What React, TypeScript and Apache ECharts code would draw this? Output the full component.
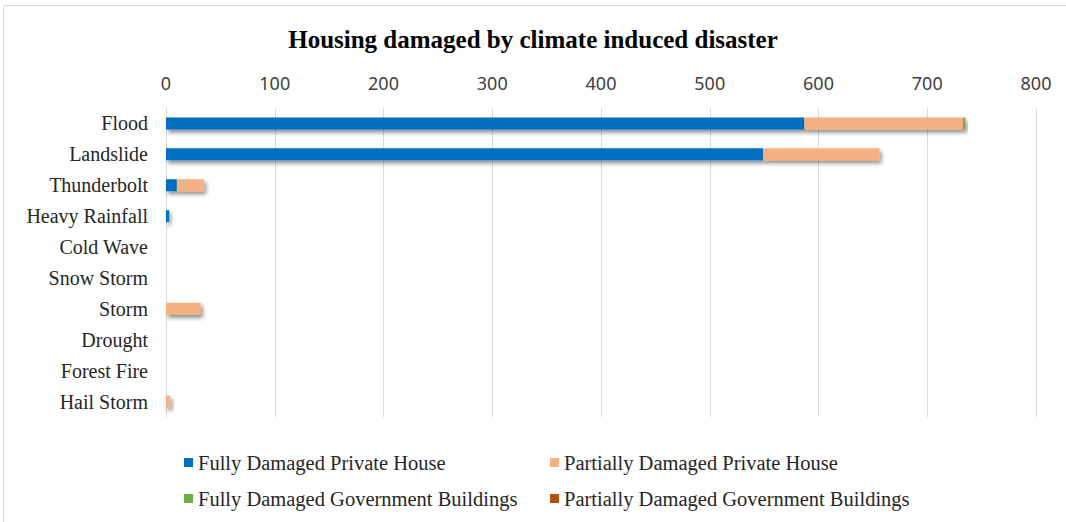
import React, { useEffect, useRef } from "react";
import * as echarts from "echarts";

const categories = ["Flood", "Landslide", "Thunderbolt", "Heavy Rainfall", "Cold Wave", "Snow Storm", "Storm", "Drought", "Forest Fire", "Hail Storm"];
const fullyPrivate = [587, 549, 10, 3, 0, 0, 0, 0, 0, 0];
const partialPrivate = [146, 107, 25, 0, 0, 0, 32, 0, 0, 4];
const fullyGov = [2, 0, 0, 0, 0, 0, 0, 0, 0, 0];
const partialGov = [0, 0, 0, 0, 0, 0, 0, 0, 0, 0];
const seriesNames = ["Fully Damaged Private House", "Partially Damaged Private House", "Fully Damaged Government Buildings", "Partially Damaged Government Buildings"];
const colors = ["#0070C0", "#F4B183", "#70AD47", "#B3520F"];

const FONT = "'Liberation Serif', 'Times New Roman', serif";
const SANS = "'Noto Sans', 'Open Sans', sans-serif";

export default function App() {
  const ref = useRef<HTMLDivElement>(null);
  useEffect(() => {
    const chart = echarts.init(ref.current!, null, { renderer: "svg" });
    const data = [fullyPrivate, partialPrivate, fullyGov, partialGov];
    const legendPos = [
      { left: 184, top: 452 },
      { left: 550, top: 452 },
      { left: 184, top: 488 },
      { left: 550, top: 488 },
    ];
    chart.setOption({
      animation: false,
      backgroundColor: "#ffffff",
      title: {
        text: "Housing damaged by climate induced disaster",
        left: "center",
        top: 27,
        padding: 0,
        textStyle: { fontFamily: FONT, fontSize: 25, fontWeight: "bold", color: "#000" },
      },
      graphic: [
        {
          type: "rect",
          shape: { x: 3.5, y: 5.5, width: 1200, height: 600 },
          style: { fill: "none", stroke: "#d9d9d9", lineWidth: 1 },
          silent: true,
        },
      ],
      legend: legendPos.map((p, i) => ({
        data: [seriesNames[i]],
        left: p.left,
        top: p.top,
        padding: 0,
        itemWidth: 9,
        itemHeight: 9,
        icon: "rect",
        itemGap: 2,
        textStyle: { fontFamily: FONT, fontSize: 20.5, color: "#262626" },
      })),
      grid: { left: 166, right: 30, top: 108, height: 309, containLabel: false },
      xAxis: {
        type: "value",
        position: "top",
        min: 0,
        max: 800,
        interval: 100,
        axisLine: { show: false },
        axisTick: { show: false },
        splitLine: { lineStyle: { color: "#d9d9d9" } },
        axisLabel: { fontFamily: SANS, fontSize: 18, color: "#404040", margin: 16 },
      },
      yAxis: {
        type: "category",
        inverse: true,
        data: categories,
        axisLine: { show: true, lineStyle: { color: "#d9d9d9" } },
        axisTick: { show: false },
        axisLabel: { fontFamily: FONT, fontSize: 20, color: "#262626", margin: 18 },
      },
      series: data.map((d, i) => ({
        name: seriesNames[i],
        type: "bar",
        stack: "total",
        barWidth: 12,
        data: d,
        itemStyle: {
          color: colors[i],
          shadowColor: "rgba(0,0,0,0.45)",
          shadowBlur: 4,
          shadowOffsetX: 2,
          shadowOffsetY: 3,
        },
      })),
    });
    return () => chart.dispose();
  }, []);
  return <div ref={ref} style={{ position: "fixed", left: 0, top: 0, width: 1066, height: 522 }} />;
}
